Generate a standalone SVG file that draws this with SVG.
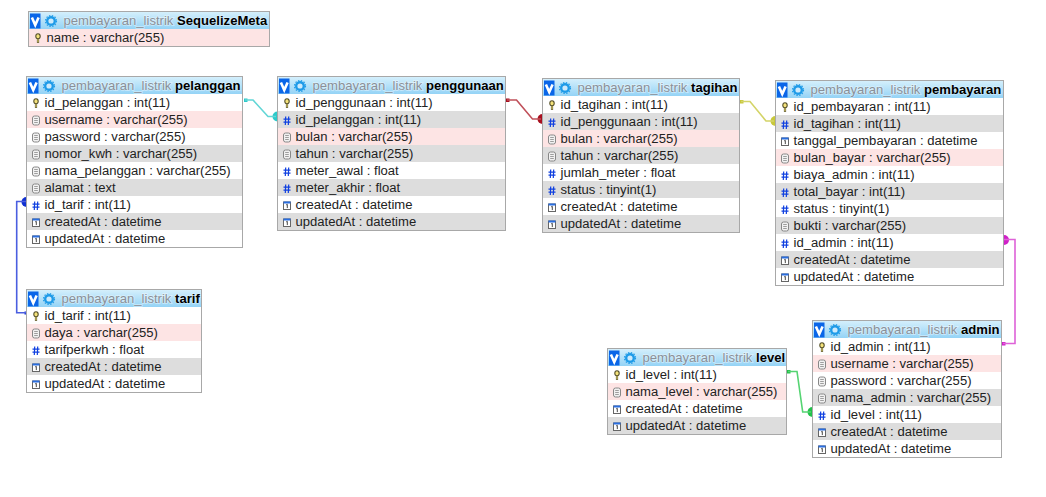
<svg xmlns="http://www.w3.org/2000/svg" width="1046" height="497" viewBox="0 0 1046 497">
<style>
text{font-family:"Liberation Sans",Arial,sans-serif;font-size:13.08px;fill:#222}
.box{fill:#fff;stroke:none}
.frame{fill:none;stroke:#a8a8a8;stroke-width:1}
.hd{fill:url(#hg)}
.g{fill:#dddddd}
.p{fill:#fde4e4}
.t{font-size:13.1px}
.db{fill:#8a9098;stroke:#fff;stroke-opacity:.45;stroke-width:1.5px;paint-order:stroke}
.tn{fill:#000;font-weight:bold;stroke:#fff;stroke-opacity:.4;stroke-width:1.5px;paint-order:stroke}
.cn{fill:none;stroke-width:1.6}
</style>
<defs>
<linearGradient id="hg" x1="0" y1="0" x2="0" y2="1"><stop offset="0" stop-color="#d6f0fc"/><stop offset="1" stop-color="#94d3f6"/></linearGradient>
<g id="hicons">
<rect x="1.5" y="2" width="10.5" height="15" fill="#0a66e8"/>
<path d="M3.4 6L6.75 13.5L10.1 6" fill="none" stroke="#fff" stroke-width="2.6"/>
<circle cx="22.5" cy="9.5" r="3.8" fill="#cdeafc" stroke="#1f9be8" stroke-width="2.4"/>
<circle cx="22.5" cy="9.5" r="5.5" fill="none" stroke="#1f9be8" stroke-width="1.2" stroke-dasharray="1.4 1.5"/>
</g>
<g id="key"><ellipse cx="0" cy="-2.2" rx="2.2" ry="2.5" fill="#f4e27a" stroke="#55502a" stroke-width="1.1"/><path d="M0 0V4.4" fill="none" stroke="#55502a" stroke-width="2.2"/><path d="M0 .6V3.8" fill="none" stroke="#f4e27a" stroke-width="1"/></g>
<g id="doc"><rect x="-3.5" y="-4.5" width="7" height="9" rx="2" fill="#f2f2f2" stroke="#888" stroke-width="1"/><path d="M-1.8-2H1.8M-1.8 0H1.8M-1.8 2H1.8" stroke="#888" stroke-width=".8"/></g>
<g id="num"><path d="M-1.3-4L-1.7 4.5M1.7-4L1.3 4.5M-3.5-1.3H3.5M-3.5 1.7H3.5" fill="none" stroke="#1040e0" stroke-width="1.2"/></g>
<g id="dt"><rect x="-3.5" y="-3.5" width="7" height="7.5" fill="#fff" stroke="#666" stroke-width="1"/><rect x="-3.5" y="-4" width="7" height="2" fill="#2a6ee0"/><path d="M-.8-.6L.3-1.2V2.6" fill="none" stroke="#333" stroke-width=".9"/></g>
</defs>

<g id="connectors">
<g fill="#2ccaca" stroke="none"><rect x="244" y="98.5" width="3.5" height="3.5"/><circle cx="277.5" cy="116.5" r="5"/></g>
<path class="cn" stroke="#62d6d6" d="M245 100H253L268 116.5H276"/>
<g fill="#a80f1e" stroke="none"><rect x="506" y="98.5" width="3.5" height="3.5"/><circle cx="542.5" cy="119" r="5"/></g>
<path class="cn" stroke="#c0505a" d="M507 100H516.5L532.5 119H541"/>
<g fill="#c8c83a" stroke="none"><rect x="740" y="100" width="3.5" height="3.5"/><circle cx="775.5" cy="121" r="5"/></g>
<path class="cn" stroke="#d4d468" d="M741 101.5H750L766 121H774"/>
<g fill="#d020c8" stroke="none"><circle cx="1004" cy="240" r="5"/><rect x="1002" y="342" width="3.5" height="3.5"/></g>
<path class="cn" stroke="#de62d8" d="M1004 239.5H1015V343.5H1003"/>
<g fill="#22c04a" stroke="none"><rect x="787" y="370" width="3.5" height="3.5"/><circle cx="812.5" cy="412" r="5"/></g>
<path class="cn" stroke="#55d472" d="M788 371.5H797L802.7 412H811"/>
<g fill="#1030d0" stroke="none"><circle cx="26.5" cy="202" r="5"/><rect x="24.5" y="311.5" width="3" height="3"/></g>
<path class="cn" stroke="#4a5ee0" d="M26 201.5H16.7V312.7H27"/>
</g>

<g id="SequelizeMeta" transform="translate(28.5 11.5)">
<rect class="box" width="241" height="35"/><rect class="hd" width="241" height="17.5"/>
<rect class="p" y="17.5" width="241" height="17"/>
<rect class="frame" width="241" height="35"/>
<use href="#hicons" x="0" y="0"/>
<text class="t" x="35" y="13.5"><tspan class="db">pembayaran_listrik</tspan> <tspan class="tn">SequelizeMeta</tspan></text>
<use href="#key" x="9.5" y="27"/><text x="18" y="30">name : varchar(255)</text>
</g>

<g id="pelanggan" transform="translate(26.5 76.5)">
<rect class="box" width="216" height="171"/><rect class="hd" width="216" height="17.5"/>
<rect class="p" y="34.5" width="216" height="17"/><rect class="g" y="68.5" width="216" height="17"/><rect class="g" y="102.5" width="216" height="17"/><rect class="g" y="136.5" width="216" height="17"/>
<rect class="frame" width="216" height="171"/>
<use href="#hicons"/>
<text class="t" x="35" y="13.5"><tspan class="db">pembayaran_listrik</tspan> <tspan class="tn">pelanggan</tspan></text>
<use href="#key" x="9.5" y="27"/><text x="18" y="30">id_pelanggan : int(11)</text>
<use href="#doc" x="9.5" y="44"/><text x="18" y="47">username : varchar(255)</text>
<use href="#doc" x="9.5" y="61"/><text x="18" y="64">password : varchar(255)</text>
<use href="#doc" x="9.5" y="78"/><text x="18" y="81">nomor_kwh : varchar(255)</text>
<use href="#doc" x="9.5" y="95"/><text x="18" y="98">nama_pelanggan : varchar(255)</text>
<use href="#doc" x="9.5" y="112"/><text x="18" y="115">alamat : text</text>
<use href="#num" x="9.5" y="129"/><text x="18" y="132">id_tarif : int(11)</text>
<use href="#dt" x="9.5" y="146"/><text x="18" y="149">createdAt : datetime</text>
<use href="#dt" x="9.5" y="163"/><text x="18" y="166">updatedAt : datetime</text>
</g>

<g id="tarif" transform="translate(26.5 289.5)">
<rect class="box" width="175" height="103"/><rect class="hd" width="175" height="17.5"/>
<rect class="p" y="34.5" width="175" height="17"/><rect class="g" y="68.5" width="175" height="17"/>
<rect class="frame" width="175" height="103"/>
<use href="#hicons"/>
<text class="t" x="35" y="13.5"><tspan class="db">pembayaran_listrik</tspan> <tspan class="tn">tarif</tspan></text>
<use href="#key" x="9.5" y="27"/><text x="18" y="30">id_tarif : int(11)</text>
<use href="#doc" x="9.5" y="44"/><text x="18" y="47">daya : varchar(255)</text>
<use href="#num" x="9.5" y="61"/><text x="18" y="64">tarifperkwh : float</text>
<use href="#dt" x="9.5" y="78"/><text x="18" y="81">createdAt : datetime</text>
<use href="#dt" x="9.5" y="95"/><text x="18" y="98">updatedAt : datetime</text>
</g>

<g id="penggunaan" transform="translate(277.5 76.5)">
<rect class="box" width="228" height="154"/><rect class="hd" width="228" height="17.5"/>
<rect class="g" y="34.5" width="228" height="17"/><rect class="p" y="51.5" width="228" height="17"/><rect class="g" y="68.5" width="228" height="17"/><rect class="g" y="102.5" width="228" height="17"/><rect class="g" y="136.5" width="228" height="17"/>
<rect class="frame" width="228" height="154"/>
<use href="#hicons"/>
<text class="t" x="35" y="13.5"><tspan class="db">pembayaran_listrik</tspan> <tspan class="tn">penggunaan</tspan></text>
<use href="#key" x="9.5" y="27"/><text x="18" y="30">id_penggunaan : int(11)</text>
<use href="#num" x="9.5" y="44"/><text x="18" y="47">id_pelanggan : int(11)</text>
<use href="#doc" x="9.5" y="61"/><text x="18" y="64">bulan : varchar(255)</text>
<use href="#doc" x="9.5" y="78"/><text x="18" y="81">tahun : varchar(255)</text>
<use href="#num" x="9.5" y="95"/><text x="18" y="98">meter_awal : float</text>
<use href="#num" x="9.5" y="112"/><text x="18" y="115">meter_akhir : float</text>
<use href="#dt" x="9.5" y="129"/><text x="18" y="132">createdAt : datetime</text>
<use href="#dt" x="9.5" y="146"/><text x="18" y="149">updatedAt : datetime</text>
</g>

<g id="tagihan" transform="translate(542.5 78.5)">
<rect class="box" width="197" height="154"/><rect class="hd" width="197" height="17.5"/>
<rect class="g" y="34.5" width="197" height="17"/><rect class="p" y="51.5" width="197" height="17"/><rect class="g" y="68.5" width="197" height="17"/><rect class="g" y="102.5" width="197" height="17"/><rect class="g" y="136.5" width="197" height="17"/>
<rect class="frame" width="197" height="154"/>
<use href="#hicons"/>
<text class="t" x="35" y="13.5"><tspan class="db">pembayaran_listrik</tspan> <tspan class="tn">tagihan</tspan></text>
<use href="#key" x="9.5" y="27"/><text x="18" y="30">id_tagihan : int(11)</text>
<use href="#num" x="9.5" y="44"/><text x="18" y="47">id_penggunaan : int(11)</text>
<use href="#doc" x="9.5" y="61"/><text x="18" y="64">bulan : varchar(255)</text>
<use href="#doc" x="9.5" y="78"/><text x="18" y="81">tahun : varchar(255)</text>
<use href="#num" x="9.5" y="95"/><text x="18" y="98">jumlah_meter : float</text>
<use href="#num" x="9.5" y="112"/><text x="18" y="115">status : tinyint(1)</text>
<use href="#dt" x="9.5" y="129"/><text x="18" y="132">createdAt : datetime</text>
<use href="#dt" x="9.5" y="146"/><text x="18" y="149">updatedAt : datetime</text>
</g>

<g id="pembayaran" transform="translate(775.5 80.5)">
<rect class="box" width="228" height="205"/><rect class="hd" width="228" height="17.5"/>
<rect class="g" y="34.5" width="228" height="17"/><rect class="p" y="68.5" width="228" height="17"/><rect class="g" y="102.5" width="228" height="17"/><rect class="g" y="136.5" width="228" height="17"/><rect class="g" y="170.5" width="228" height="17"/>
<rect class="frame" width="228" height="205"/>
<use href="#hicons"/>
<text class="t" x="35" y="13.5"><tspan class="db">pembayaran_listrik</tspan> <tspan class="tn">pembayaran</tspan></text>
<use href="#key" x="9.5" y="27"/><text x="18" y="30">id_pembayaran : int(11)</text>
<use href="#num" x="9.5" y="44"/><text x="18" y="47">id_tagihan : int(11)</text>
<use href="#dt" x="9.5" y="61"/><text x="18" y="64">tanggal_pembayaran : datetime</text>
<use href="#doc" x="9.5" y="78"/><text x="18" y="81">bulan_bayar : varchar(255)</text>
<use href="#num" x="9.5" y="95"/><text x="18" y="98">biaya_admin : int(11)</text>
<use href="#num" x="9.5" y="112"/><text x="18" y="115">total_bayar : int(11)</text>
<use href="#num" x="9.5" y="129"/><text x="18" y="132">status : tinyint(1)</text>
<use href="#doc" x="9.5" y="146"/><text x="18" y="149">bukti : varchar(255)</text>
<use href="#num" x="9.5" y="163"/><text x="18" y="166">id_admin : int(11)</text>
<use href="#dt" x="9.5" y="180"/><text x="18" y="183">createdAt : datetime</text>
<use href="#dt" x="9.5" y="197"/><text x="18" y="200">updatedAt : datetime</text>
</g>

<g id="admin" transform="translate(812.5 320.5)">
<rect class="box" width="189" height="137"/><rect class="hd" width="189" height="17.5"/>
<rect class="p" y="34.5" width="189" height="17"/><rect class="g" y="68.5" width="189" height="17"/><rect class="g" y="102.5" width="189" height="17"/>
<rect class="frame" width="189" height="137"/>
<use href="#hicons"/>
<text class="t" x="35" y="13.5"><tspan class="db">pembayaran_listrik</tspan> <tspan class="tn">admin</tspan></text>
<use href="#key" x="9.5" y="27"/><text x="18" y="30">id_admin : int(11)</text>
<use href="#doc" x="9.5" y="44"/><text x="18" y="47">username : varchar(255)</text>
<use href="#doc" x="9.5" y="61"/><text x="18" y="64">password : varchar(255)</text>
<use href="#doc" x="9.5" y="78"/><text x="18" y="81">nama_admin : varchar(255)</text>
<use href="#num" x="9.5" y="95"/><text x="18" y="98">id_level : int(11)</text>
<use href="#dt" x="9.5" y="112"/><text x="18" y="115">createdAt : datetime</text>
<use href="#dt" x="9.5" y="129"/><text x="18" y="132">updatedAt : datetime</text>
</g>

<g id="level" transform="translate(607.5 348.5)">
<rect class="box" width="179" height="86"/><rect class="hd" width="179" height="17.5"/>
<rect class="p" y="34.5" width="179" height="17"/><rect class="g" y="68.5" width="179" height="17"/>
<rect class="frame" width="179" height="86"/>
<use href="#hicons"/>
<text class="t" x="35" y="13.5"><tspan class="db">pembayaran_listrik</tspan> <tspan class="tn">level</tspan></text>
<use href="#key" x="9.5" y="27"/><text x="18" y="30">id_level : int(11)</text>
<use href="#doc" x="9.5" y="44"/><text x="18" y="47">nama_level : varchar(255)</text>
<use href="#dt" x="9.5" y="61"/><text x="18" y="64">createdAt : datetime</text>
<use href="#dt" x="9.5" y="78"/><text x="18" y="81">updatedAt : datetime</text>
</g>
</svg>
